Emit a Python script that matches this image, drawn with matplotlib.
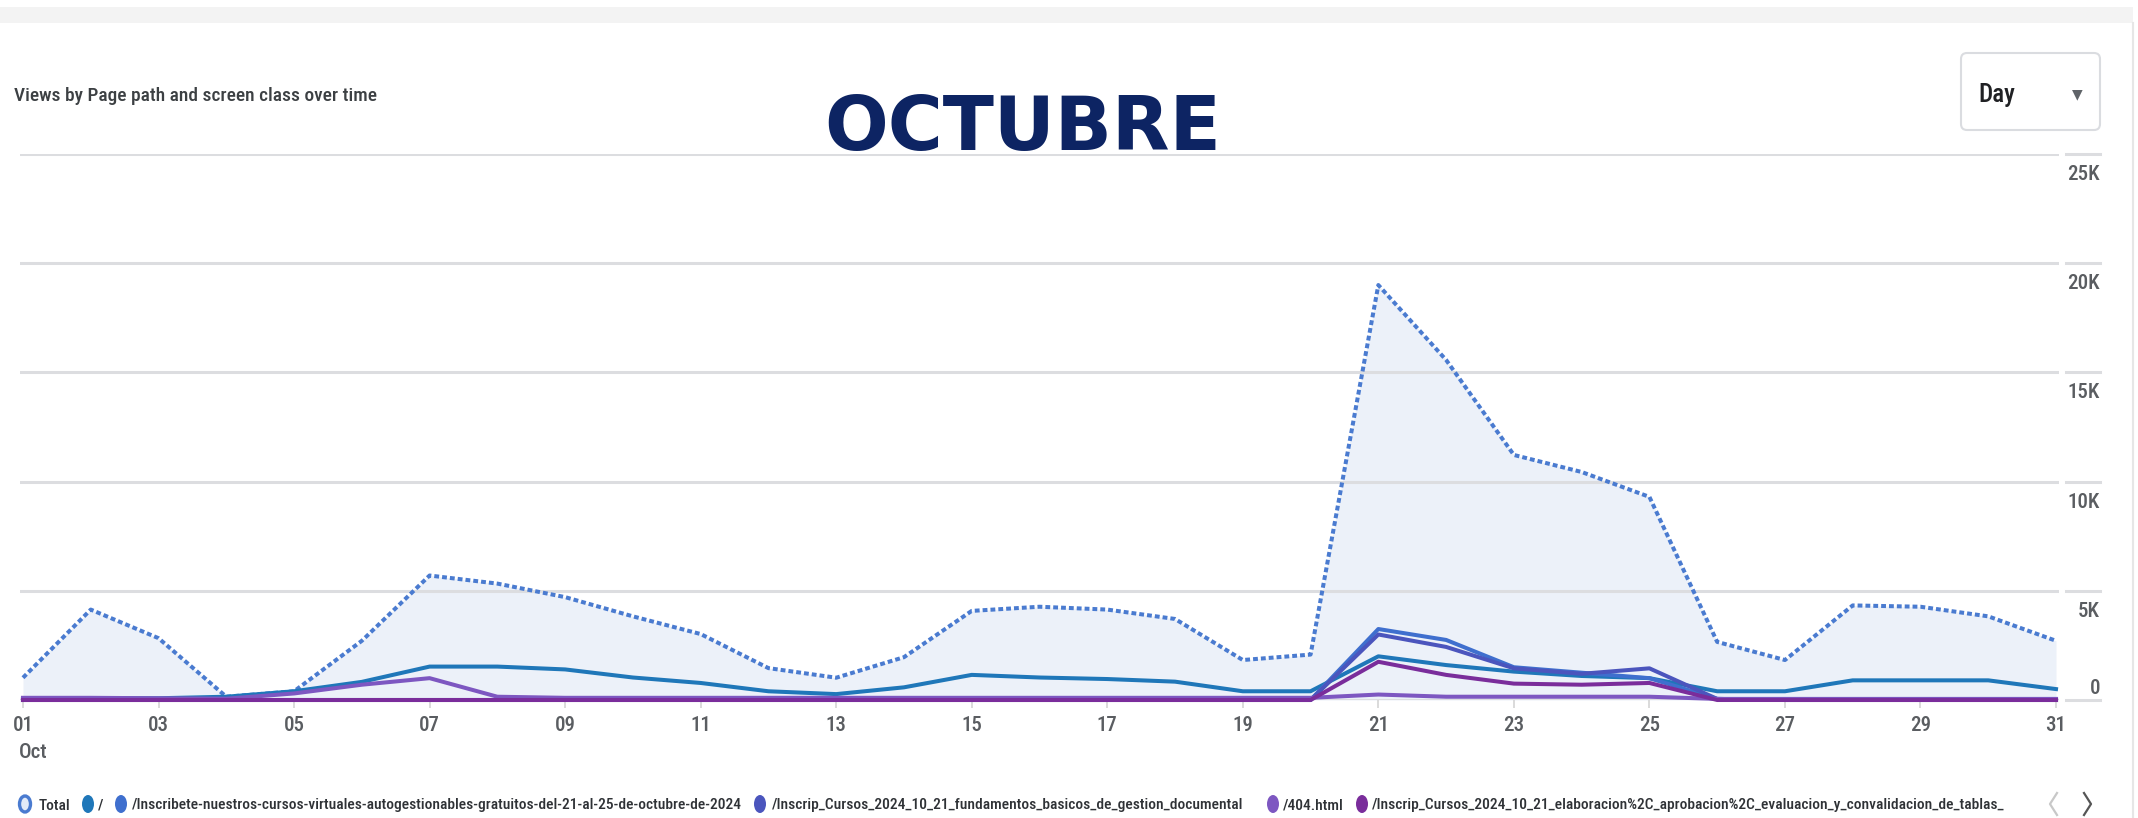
import os
import matplotlib
matplotlib.use("Agg")
import matplotlib.pyplot as plt
from matplotlib import font_manager as fm
from matplotlib.patches import FancyBboxPatch, Ellipse, Rectangle
from matplotlib.lines import Line2D
from matplotlib.transforms import blended_transform_factory, offset_copy, Bbox, TransformedBbox

# ---------------- data ----------------
days = list(range(1, 32))
total = [1020, 4140, 2830, 150, 400, 2710, 5700, 5330, 4710, 3830, 3020, 1460, 1020, 1960, 4080, 4270,
         4140, 3710, 1830, 2080, 19000, 15570, 11220, 10440, 9300, 2660, 1830, 4330, 4270, 3830, 2710]
root = [50, 80, 80, 150, 400, 830, 1530, 1530, 1400, 1030, 780, 400, 270, 580, 1150, 1030,
        960, 840, 400, 400, 2000, 1600, 1300, 1100, 1000, 400, 400, 900, 900, 900, 500]
inscribete = [0, 0, 0, 0, 0, 0, 0, 0, 0, 0, 0, 0, 0, 0, 0, 0,
              0, 0, 0, 0, 3250, 2750, 1500, 1250, 1000, 50, 0, 0, 0, 0, 0]
fundamentos = [0, 0, 0, 0, 0, 0, 0, 0, 0, 0, 0, 0, 0, 0, 0, 0,
               0, 0, 0, 0, 3000, 2430, 1450, 1200, 1450, 50, 0, 0, 0, 0, 0]
err404 = [100, 100, 80, 60, 300, 700, 1000, 150, 100, 100, 100, 100, 100, 100, 100, 100,
          100, 100, 100, 100, 250, 150, 150, 150, 150, 50, 50, 50, 50, 50, 50]
elaboracion = [0, 0, 0, 0, 0, 0, 0, 0, 0, 0, 0, 0, 0, 0, 0, 0,
               0, 0, 0, 0, 1750, 1150, 750, 700, 780, 0, 0, 0, 0, 0, 0]

series_labels = [
    "Total",
    "/",
    "/Inscribete-nuestros-cursos-virtuales-autogestionables-gratuitos-del-21-al-25-de-octubre-de-2024",
    "/Inscrip_Cursos_2024_10_21_fundamentos_basicos_de_gestion_documental",
    "/404.html",
    "/Inscrip_Cursos_2024_10_21_elaboracion%2C_aprobacion%2C_evaluacion_y_convalidacion_de_tablas_",
]
xtick_days = [1, 3, 5, 7, 9, 11, 13, 15, 17, 19, 21, 23, 25, 27, 29, 31]
xtick_labels = ["01", "03", "05", "07", "09", "11", "13", "15", "17", "19", "21", "23", "25", "27", "29", "31"]
ytick_vals = [0, 5000, 10000, 15000, 20000, 25000]
ytick_labels = ["0", "5K", "10K", "15K", "20K", "25K"]
chart_title = "Views by Page path and screen class over time"
big_title = "OCTUBRE"
month_label = "Oct"
dropdown_label = "Day"

# ---------------- style ----------------
colors = ["#4a7bd0", "#1f77b9", "#3f6fce", "#4b55bd", "#7d57c1", "#7a2d9b"]
fill_color = "#ecf1f9"
grid_color = "#dcdde0"

W, H = 2138, 818
fig = plt.figure(figsize=(W / 100, H / 100), dpi=100)
fig.patch.set_facecolor("white")


def fx(x):
    return x / W


def fy(y):
    return 1 - y / H


files = [f.fname for f in fm.fontManager.ttflist]


def find_font(prefs):
    for p in prefs:
        for fn in files:
            if os.path.basename(fn).startswith(p):
                return fn
    return None


reg_path = find_font(["RobotoCondensed-Regular", "LiberationSansNarrow-Regular", "DejaVuSansCondensed.ttf",
                      "OpenSans_Condensed-Regular", "Roboto_Condensed-Regular"])
med_path = find_font(["RobotoCondensed-Medium", "Roboto_Condensed-Medium"]) or reg_path


def fprop(size, medium=False):
    path = med_path if medium else reg_path
    if path:
        fp = fm.FontProperties(fname=path)
    else:
        fp = fm.FontProperties(family="DejaVu Sans")
    fp.set_size(size)
    return fp


renderer = fig.canvas.get_renderer()


def text_width(s, size, medium=False):
    t = fig.text(0, 0, s, fontproperties=fprop(size, medium))
    w = t.get_window_extent(renderer).width
    t.remove()
    return w


# background card elements
fig.add_artist(Rectangle((0, fy(23)), fx(2133), fy(7) - fy(23), transform=fig.transFigure,
                         facecolor="#f3f3f3", edgecolor="none"))
fig.add_artist(Line2D([fx(2133), fx(2133)], [fy(23), 0], transform=fig.transFigure,
                      color="#e6e6e6", lw=1.5))

# ---------------- axes ----------------
ax = fig.add_axes([fx(20), 1 - 700 / H, (2059 - 20) / W, (700 - 154) / H])
ax.set_xlim(1 - 0.044, 31 + 0.044)
ax.set_ylim(0, 25000)
for s in ax.spines.values():
    s.set_visible(False)
ax.patch.set_alpha(0)

ax.fill_between(days, 0, total, color=fill_color, lw=0, zorder=1)
for v in ytick_vals:
    ax.axhline(v, color=grid_color, lw=2.2, zorder=1.5)

ax.plot(days, total, color=colors[0], lw=2.9, linestyle=(0, (1.2, 0.75)), zorder=3,
        dash_capstyle="butt", clip_on=False)
for vals, c in zip([root, inscribete, fundamentos, err404, elaboracion], colors[1:]):
    ax.plot(days, vals, color=c, lw=2.9, zorder=3, clip_on=False, solid_joinstyle="round")

ax.set_yticks(ytick_vals)
ax.tick_params(axis="y", length=0, labelleft=False, labelright=False)
ax.set_xticks(xtick_days)
ax.set_xticklabels(xtick_labels, fontproperties=fprop(15, True), color="#5a5d61")
ax.tick_params(axis="x", length=5.5, width=1.2, color="#d4d4d4", pad=6)

trans = blended_transform_factory(ax.transAxes, ax.transData)
x_lab = (2100 - 20) / (2059 - 20)
x_seg0 = (2066 - 20) / (2059 - 20)
for v, lab in zip(ytick_vals, ytick_labels):
    ax.plot([x_seg0, x_lab], [v, v], transform=trans, color=grid_color, lw=2.2, clip_on=False)
    if v == 0:
        ax.text(x_lab, v, lab, transform=offset_copy(trans, fig=fig, x=0, y=6, units="dots"),
                ha="right", va="baseline", fontproperties=fprop(15, True), color="#5a5d61")
    else:
        ax.text(x_lab, v, lab, transform=offset_copy(trans, fig=fig, x=0, y=-11, units="dots"),
                ha="right", va="top", fontproperties=fprop(15, True), color="#5a5d61")

trans_x = blended_transform_factory(ax.transData, ax.transAxes)
ax.text(days[0], 0, month_label, transform=offset_copy(trans_x, fig=fig, x=-4, y=-58, units="dots"),
        ha="left", va="baseline", fontproperties=fprop(15, True), color="#5a5d61")

# ---------------- titles ----------------
tsize = 10 * 360 / text_width(chart_title, 10, True)
fig.text(fx(14), fy(101), chart_title, ha="left", va="baseline", fontproperties=fprop(tsize, True),
         color="#3c4043")
fig.text(fx(1023), fy(150), big_title, ha="center", va="baseline", fontsize=54, fontweight="bold",
         family="DejaVu Sans", color="#0d2463")

# dropdown
box = FancyBboxPatch((1961 / 100, (H - 130) / 100), 139 / 100, 77 / 100,
                     boxstyle="round,pad=0,rounding_size=0.06", transform=fig.dpi_scale_trans,
                     facecolor="white", edgecolor="#dadce0", lw=1.5)
fig.add_artist(box)
fig.text(fx(1978), fy(102), dropdown_label, ha="left", va="baseline", fontproperties=fprop(18, True),
         color="#202124")
fig.text(fx(2077), fy(94), "\u25BC", ha="center", va="center", fontsize=10, family="DejaVu Sans",
         color="#5f6368")

# ---------------- legend ----------------
marker_x = [25, 88, 121, 760, 1273, 1362]
text_x = [39, 98, 132, 772, 1283, 1372]
target_w = {2: 608, 3: 484, 4: 62}
fits = [10 * tw / text_width(series_labels[i], 10, True) for i, tw in target_w.items()]
lsize = min(fits + [17])
ly = 804
for i, (lab, c) in enumerate(zip(series_labels, colors)):
    if i == 0:
        e = Ellipse((fx(marker_x[i]), fy(ly)), 11 / W, 16 / H, transform=fig.transFigure,
                    facecolor="#e3ebf8", edgecolor=c, lw=2.4)
    else:
        e = Ellipse((fx(marker_x[i]), fy(ly)), 12 / W, 18 / H, transform=fig.transFigure,
                    facecolor=c, edgecolor="none")
    fig.add_artist(e)
    t = fig.text(fx(text_x[i]), fy(ly), lab, ha="left", va="center_baseline",
                 fontproperties=fprop(lsize, True), color="#2f3236")
    if i == len(series_labels) - 1:
        t.set_clip_box(TransformedBbox(Bbox([[0, 0], [fx(2032), 1]]), fig.transFigure))
        t.set_clip_on(True)

# pager chevrons
fig.add_artist(Line2D([fx(2057), fx(2050), fx(2057)], [fy(793), fy(804), fy(815)],
                      transform=fig.transFigure, color="#c8c8c8", lw=1.6))
fig.add_artist(Line2D([fx(2084), fx(2091), fx(2084)], [fy(793), fy(804), fy(815)],
                      transform=fig.transFigure, color="#555555", lw=1.6))

fig.savefig("out.png", dpi=100, facecolor="white")
